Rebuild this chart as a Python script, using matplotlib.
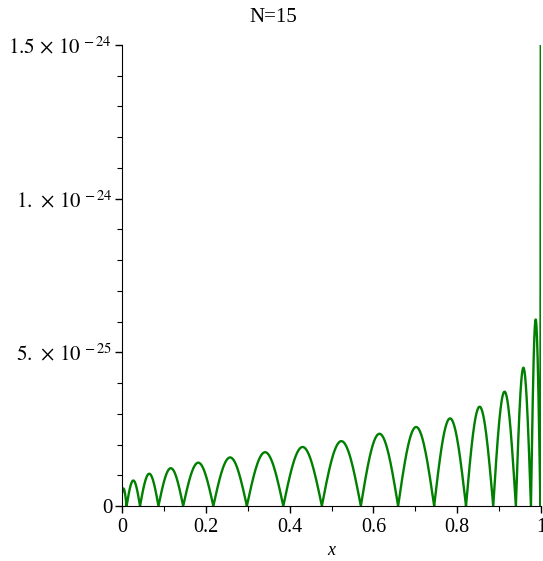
import matplotlib
matplotlib.use('Agg')
import matplotlib.pyplot as plt
import numpy as np

plt.rcParams.update({
    'font.family': ['Liberation Serif', 'DejaVu Serif'],
    'mathtext.fontset': 'stix',
    'font.size': 14,
})

# zeros of |error| (x), and height of each arch between them (units of 1e-24)
zeros = [-0.004, 0.011, 0.043, 0.087, 0.146, 0.218, 0.298, 0.385, 0.477,
         0.570, 0.659, 0.745, 0.821, 0.886, 0.940, 0.976, 0.9985, 1.003]
peaks = [0.057, 0.083, 0.105, 0.123, 0.141, 0.158, 0.175, 0.192, 0.211,
         0.235, 0.257, 0.285, 0.323, 0.372, 0.450, 0.607, 2.5]
scale = 1e-24

yticks = [0, 5e-25, 1e-24, 1.5e-24]
ytick_labels = ['0', r'$5.\,\times\,10^{\,-25}$', r'$1.\,\times\,10^{\,-24}$',
                r'$1.5\,\times\,10^{\,-24}$']
xticks = [0, 0.2, 0.4, 0.6, 0.8, 1]
xtick_labels = ['0', '0.2', '0.4', '0.6', '0.8', '1']

# each lobe drawn as a half-sine arch between consecutive zeros
xs, ys = [], []
for a, b, h in zip(zeros[:-1], zeros[1:], peaks):
    t = np.linspace(0, 1, 60)
    xs.append(a + (b - a) * t)
    ys.append(h * scale * np.sin(np.pi * t))
x = np.concatenate(xs)
y = np.concatenate(ys)

fig = plt.figure(figsize=(5.43, 5.61), dpi=100)
ax = fig.add_axes([122 / 543, 55 / 561, 419 / 543, 461 / 561])
ax.plot(x, y, color='#008000', linewidth=1.7)

ax.set_xlim(0, 1)
ax.set_ylim(0, 1.5e-24)
ax.spines['top'].set_visible(False)
ax.spines['right'].set_visible(False)

ax.set_xticks(xticks, labels=xtick_labels)
ax.set_xticks([0.1, 0.3, 0.5, 0.7, 0.9], minor=True)
ax.set_yticks(yticks, labels=ytick_labels)
ax.set_yticks([i * 1e-25 for i in range(1, 15) if i % 5], minor=True)
ax.tick_params(which='major', direction='out', length=5, width=1, labelsize=14.5)
ax.tick_params(axis='y', which='major', labelsize=15)
ax.tick_params(which='minor', direction='out', length=3.5, width=0.8)
ax.tick_params(axis='y', pad=2)
ax.tick_params(axis='x', pad=4)

ax.set_xlabel('x', style='italic', fontsize=13, labelpad=3)
fig.text(273 / 543, 1 - 17 / 561, 'N=15', ha='center', va='center', fontsize=15)

plt.savefig('out.png', dpi=100)
